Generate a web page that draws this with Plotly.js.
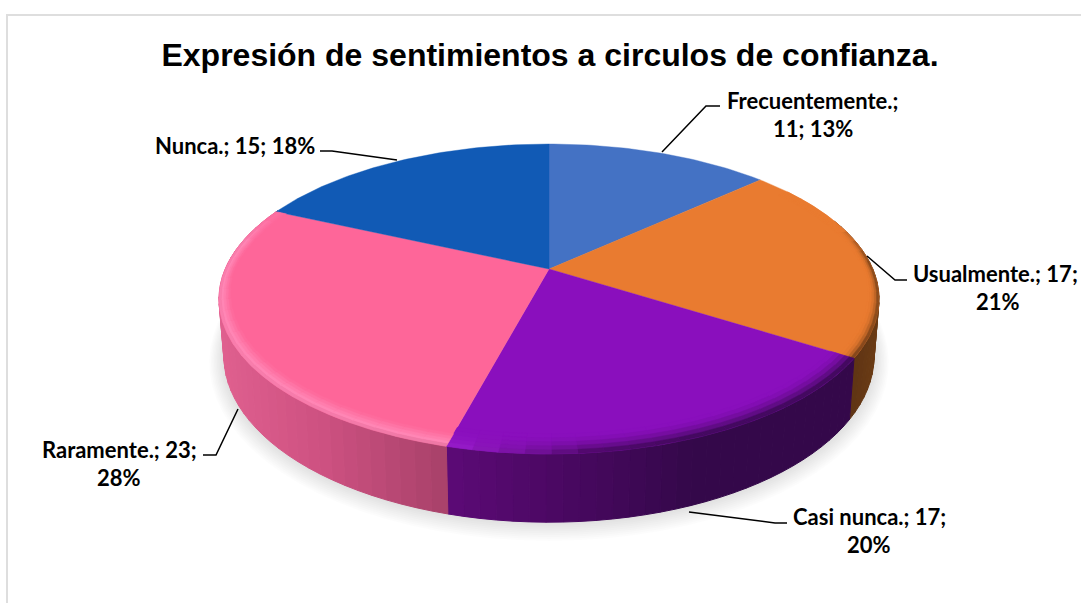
<!DOCTYPE html>
<html>
<head>
<meta charset="utf-8">
<script src="https://cdn.plot.ly/plotly-3.0.1.min.js"></script>
<style>html,body{margin:0;padding:0;background:#fff;overflow:hidden}#c{width:1081px;height:603px}</style>
</head>
<body>
<div id="c"></div>
<script>
const chartTitle = "Expresión de sentimientos a circulos de confianza.";
const categories = ["Frecuentemente.", "Usualmente.", "Casi nunca.", "Raramente.", "Nunca."];
const counts = [11, 17, 17, 23, 15];
const percents = [13, 21, 20, 28, 18];
const shares = [13.2, 20.8, 20.15, 27.65, 18.2];
const faceColors = ["#4472c4", "#e97b30", "#8a0fbd", "#fe6699", "#115ab5"];
const sideStops = [
  [[0, "#2f4a80"], [1, "#2f4a80"]],
  [[850, "#5f3414"], [880, "#6e3d14"]],
  [[448, "#5c0a76"], [560, "#4a0862"], [690, "#34084a"], [850, "#34084a"]],
  [[222, "#e0608f"], [330, "#cc5080"], [447, "#a8416a"]],
  [[0, "#0b3a78"], [1, "#0b3a78"]]
];

// projection of the pie disc
const CX = 549, CY = 269, K = 0.1935, A = 149.2, B = 323.8, DEPTH = 55, SHRINK = 0.985;
const rad = d => d * Math.PI / 180;
function topPt(deg, r = 1) {
  const u = r * Math.sin(rad(deg)), v = r * Math.cos(rad(deg)), w = 1 + K * v;
  return [CX + B * u / w, CY - A * v / w];
}
function botPt(deg, grow = 0) {
  const p = topPt(deg), v = Math.cos(rad(deg)), w = 1 + K * v;
  return [CX + (p[0] - CX) * SHRINK + grow * Math.sin(rad(deg)),
          p[1] + DEPTH / w - grow * Math.cos(rad(deg)) * 0.9 + grow * 0.35];
}
const hex = c => [1, 3, 5].map(i => parseInt(c.slice(i, i + 2), 16));
const mix = (a, b, t) => {
  const x = hex(a), y = hex(b);
  return "#" + x.map((q, i) => Math.round(q + (y[i] - q) * t).toString(16).padStart(2, "0")).join("");
};
const clamp = t => Math.max(0, Math.min(1, t));
function stopColor(stops, x) {
  if (x <= stops[0][0]) return stops[0][1];
  for (let i = 1; i < stops.length; i++) {
    if (x <= stops[i][0]) return mix(stops[i - 1][1], stops[i][1], (x - stops[i - 1][0]) / (stops[i][0] - stops[i - 1][0]));
  }
  return stops[stops.length - 1][1];
}
function poly(pts, color, opacity, lineW) {
  const xs = pts.map(p => p[0]), ys = pts.map(p => p[1]);
  xs.push(xs[0]); ys.push(ys[0]);
  return { type: "scatter", mode: "lines", x: xs, y: ys, fill: "toself", fillcolor: color,
    opacity: opacity === undefined ? 1 : opacity,
    line: { color: color, width: lineW === undefined ? 1 : lineW }, hoverinfo: "skip", showlegend: false };
}
function segments(a, b, step) {
  const n = Math.max(1, Math.ceil((b - a) / step)), out = [];
  for (let i = 0; i < n; i++) out.push([a + (b - a) * i / n, a + (b - a) * (i + 1) / n]);
  return out;
}

const traces = [];

// frame
traces.push({ type: "scatter", mode: "lines", x: [7, 7, 1081], y: [603, 15, 15],
  line: { color: "#dedede", width: 2 }, hoverinfo: "skip", showlegend: false });

// soft shadow
for (let e = 15; e >= 1; e -= 1.5) {
  const pts = [];
  for (let d = 40; d <= 320; d += 4) pts.push(botPt(d, e));
  traces.push(poly(pts, "#000000", 0.012, 0));
}

// cumulative slice limits
const limits = [];
let acc = 0;
const total = shares.reduce((s, v) => s + v, 0);
shares.forEach(p => { limits.push([acc / total * 360, (acc + p) / total * 360]); acc += p; });

// side wall
limits.forEach((lim, i) => {
  const a = Math.max(lim[0], 70), b = Math.min(lim[1], 295);
  if (a >= b) return;
  segments(a, b, 2.5).forEach(s => {
    const m = (s[0] + s[1]) / 2;
    traces.push(poly([topPt(s[0]), topPt(s[1]), botPt(s[1]), botPt(s[0])], stopColor(sideStops[i], botPt(m)[0])));
  });
});

// top face
limits.forEach((lim, i) => {
  const pts = [[CX, CY]];
  const n = Math.ceil(lim[1] - lim[0]);
  for (let j = 0; j <= n; j++) pts.push(topPt(lim[0] + (lim[1] - lim[0]) * j / n));
  traces.push(Object.assign(poly(pts, faceColors[i], 1, 0.4), {
    hoverinfo: "text", text: categories[i] + " " + counts[i] + "; " + percents[i] + "%", hoveron: "fills"
  }));
});

// bevel along the front rim
const bands = [0, 0.2, 0.4, 0.6, 0.8, 1];
limits.forEach((lim, i) => {
  const a = Math.max(lim[0], 55), b = Math.min(lim[1], 305);
  if (a >= b || i === 0 || i === 4) return;
  segments(a, b, 4).forEach(s => {
    const m = (s[0] + s[1]) / 2, v = Math.cos(rad(m));
    const strength = i === 1 ? clamp((0.3 - v) / 0.25) : clamp((0.48 - v) / 0.3);
    const width = (0.028 + 0.032 * Math.abs(v)) * (i === 2 ? 1.5 : 1);
    const x = topPt(m)[0];
    const side = stopColor(sideStops[i], botPt(m)[0]);
    for (let j = 0; j < bands.length - 1; j++) {
      const t = (bands[j] + bands[j + 1]) / 2;
      let c;
      if (i === 3) {
        const hi = mix(faceColors[3], "#ff86b5", Math.min(1, t / 0.7) * strength);
        c = t > 0.8 ? mix(hi, side, (t - 0.8) / 0.2 * 0.4 * strength) : hi;
      } else if (i === 2) {
        const target = mix("#9c1ed0", side, clamp((x - 447) / 140));
        c = mix(faceColors[2], target, t * t * strength);
      } else {
        c = mix(faceColors[1], side, t * t * t * strength);
      }
      const r0 = 1 - width * (1 - bands[j]), r1 = 1 - width * (1 - bands[j + 1]);
      traces.push(poly([topPt(s[0], r0), topPt(s[1], r0), topPt(s[1], r1), topPt(s[0], r1)], c, 1, 0.5));
    }
  });
});

// leader lines
const leaders = [
  [[662, 706, 720], [152, 106, 106]],
  [[867, 895, 907], [256, 280, 280]],
  [[689, 775, 787], [512, 523, 523]],
  [[238, 216, 203], [409, 455, 455]],
  [[397, 332, 320], [160, 151, 151]]
];
leaders.forEach(l => traces.push({ type: "scatter", mode: "lines", x: l[0], y: l[1],
  line: { color: "#000000", width: 1.5 }, hoverinfo: "skip", showlegend: false }));

// data labels, one annotation per written line
const labelLines = [
  ["Frecuentemente.;", counts[0] + "; " + percents[0] + "%"],
  ["Usualmente.; " + counts[1] + ";", percents[1] + "%"],
  ["Casi nunca.; " + counts[2] + ";", percents[2] + "%"],
  ["Raramente.; " + counts[3] + ";", percents[3] + "%"],
  ["Nunca.; " + counts[4] + "; " + percents[4] + "%"]
];
const labelX = [813, 998, 869, 119, 235];
const labelY = [100, 273, 516, 449, 145];
const annotations = [];
labelLines.forEach((lines, i) => lines.forEach((txt, j) => {
  const edge = i === 1 && j === 0;
  annotations.push({ xref: "x", yref: "y", x: edge ? 1080 : labelX[i], y: labelY[i] + j * 28.5,
    text: txt, showarrow: false, xanchor: edge ? "right" : "center", yanchor: "middle",
    font: { family: "Lato, Carlito, Calibri, sans-serif", size: 22, color: "#000000", weight: 700 } });
}));

const layout = {
  width: 1081, height: 603, margin: { l: 0, r: 0, t: 0, b: 0 },
  paper_bgcolor: "#ffffff", plot_bgcolor: "#ffffff", showlegend: false, hovermode: "closest",
  title: { text: "<b>" + chartTitle + "</b>", x: 550 / 1081, xanchor: "center", y: 1 - 55 / 603, yanchor: "middle",
    font: { family: "Liberation Sans, Arial, sans-serif", size: 32, color: "#000000" } },
  xaxis: { range: [0, 1081], visible: false, fixedrange: true },
  yaxis: { range: [603, 0], visible: false, fixedrange: true },
  annotations: annotations
};
Plotly.newPlot("c", traces, layout, { displayModeBar: false });
</script>
</body>
</html>
